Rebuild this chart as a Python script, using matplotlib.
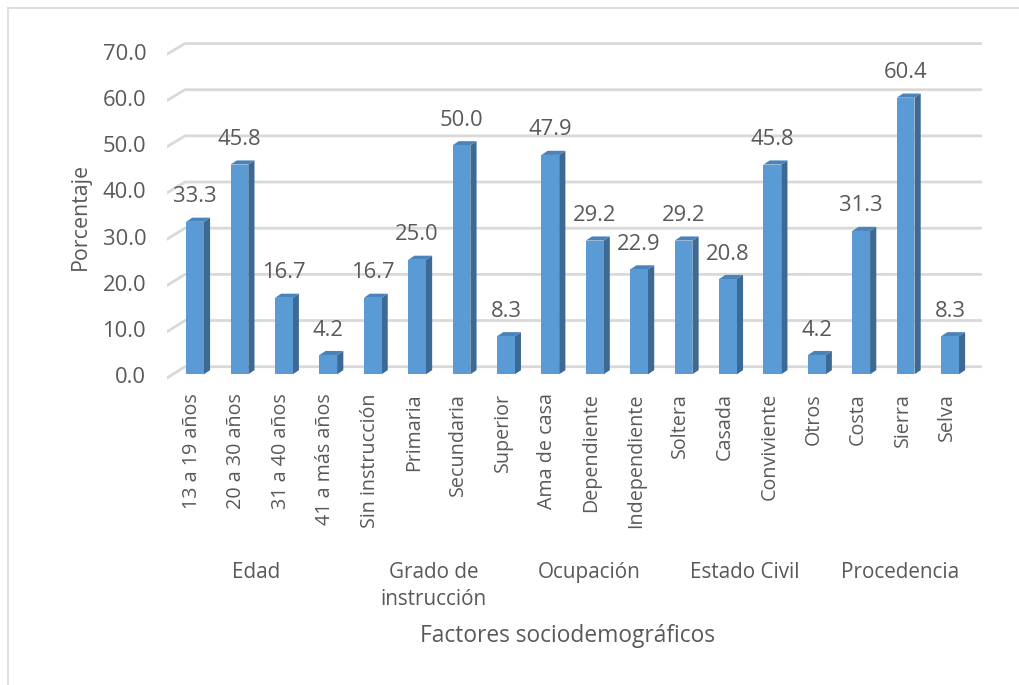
import matplotlib
matplotlib.use("Agg")
import matplotlib.pyplot as plt
from matplotlib.patches import Polygon
from matplotlib.lines import Line2D
import numpy as np

categories = ["13 a 19 años", "20 a 30 años", "31 a 40 años", "41 a más años",
              "Sin instrucción", "Primaria", "Secundaria", "Superior",
              "Ama de casa", "Dependiente", "Independiente",
              "Soltera", "Casada", "Conviviente", "Otros",
              "Costa", "Sierra", "Selva"]
values = [33.3, 45.8, 16.7, 4.2,
          16.7, 25.0, 50.0, 8.3,
          47.9, 29.2, 22.9,
          29.2, 20.8, 45.8, 4.2,
          31.3, 60.4, 8.3]
groups = ["Edad", "Grado de\ninstrucción", "Ocupación", "Estado Civil", "Procedencia"]
group_sizes = [4, 4, 3, 4, 3]
yticks = [0, 10, 20, 30, 40, 50, 60, 70]
ylabel = "Porcentaje"
xlabel = "Factores sociodemográficos"

FRONT = "#5B9BD5"
SIDE = "#3D6A94"
TOP = "#4A82BA"
TXT = "#595959"
GRID = "#D9D9D9"
FONT = "Open Sans"

W, H = 1020, 685
fig = plt.figure(figsize=(W / 100, H / 100), dpi=100)
fig.patch.set_facecolor("white")

# axes placement in pixels
px_left, px_right, px_top, px_bot = 167, 982, 30, 390
ax = fig.add_axes([px_left / W, (H - px_bot) / H, (px_right - px_left) / W, (px_bot - px_top) / H])
ax.set_xlim(-0.63, 17.72)
ax.set_ylim(-3.43, 75.18)
ax.axis("off")

# pseudo-3D geometry (data units)
bw = 0.40
dx = 0.14
dy = 0.9
back_off = 1.66
back_x0 = -0.225

# gridlines (back wall with floor diagonal)
for v in yticks:
    yb = v * 1.008 + back_off
    yf = v * 1.01 - 0.8
    ax.add_line(Line2D([-0.63, back_x0, 17.72], [yf, yb, yb], color=GRID, lw=2.0, zorder=1,
                       solid_joinstyle="miter"))
    ax.text(-1.10, yf, f"{v:.1f}", ha="right", va="center", fontsize=15.8, color=TXT,
            family=FONT, clip_on=False)

x = np.arange(len(values))
bars = ax.bar(x, values, width=bw, color=FRONT, zorder=3, linewidth=0)
for xi, v in zip(x, values):
    l, r = xi - bw / 2, xi + bw / 2
    side = Polygon([[r, 0], [r + dx, dy], [r + dx, v + dy], [r, v]], closed=True,
                   facecolor=SIDE, edgecolor="none", zorder=2.9)
    top = Polygon([[l, v], [r, v], [r + dx, v + dy], [l + dx, v + dy]], closed=True,
                  facecolor=TOP, edgecolor="none", zorder=2.9)
    ax.add_patch(side)
    ax.add_patch(top)
    ax.text(xi, v + 5.45, f"{v:.1f}", ha="center", va="center", fontsize=15.8, color=TXT,
            family=FONT, zorder=4)

# category labels
for xi, c in zip(x, categories):
    ax.text(xi - 0.07, -4.1, c, rotation=90, ha="center", va="top", fontsize=14.2,
            color=TXT, family=FONT, clip_on=False, rotation_mode="default")

# group labels
start = 0
for g, n in zip(groups, group_sizes):
    center = (start + start + n - 1) / 2 - 0.13
    ax.text(center, -41.0, g, ha="center", va="top", fontsize=14.9, color=TXT,
            family=FONT, clip_on=False, linespacing=1.35)
    start += n

fig.text(568 / W, 1 - 636 / H, xlabel, ha="center", va="center", fontsize=16.4,
         color=TXT, family=FONT)
fig.text(80 / W, 1 - 217 / H, ylabel, ha="center", va="center", rotation=90,
         fontsize=15.4, color=TXT, family=FONT)

# outer border (left and top visible)
fig.add_artist(Line2D([8 / W, 8 / W], [0, 1 - 8 / H], transform=fig.transFigure,
                      color="#D9D9D9", lw=1.2))
fig.add_artist(Line2D([8 / W, 1], [1 - 8 / H, 1 - 8 / H], transform=fig.transFigure,
                      color="#D9D9D9", lw=1.2))

fig.savefig("out.png", dpi=100, facecolor="white")
